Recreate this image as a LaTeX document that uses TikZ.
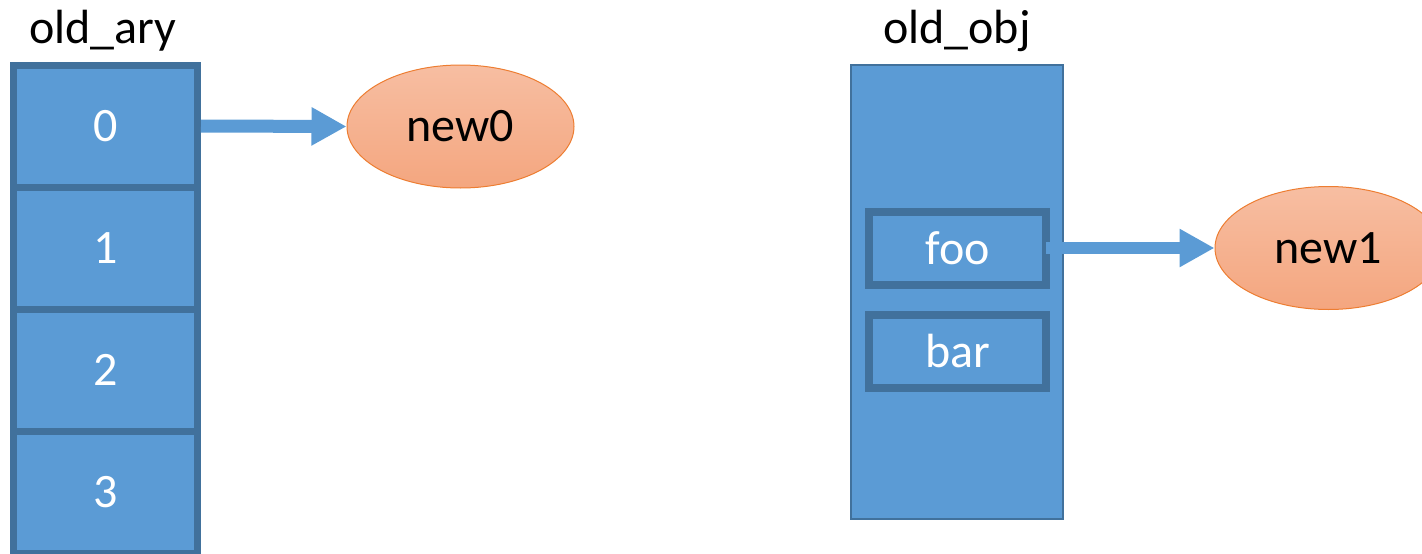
\documentclass[tikz,border=0pt]{standalone}
\usepackage{fontspec}
\setmainfont{Carlito}
\usetikzlibrary{arrows.meta,shapes.geometric}
\definecolor{cellfill}{HTML}{5B9BD5}
\definecolor{celldraw}{HTML}{41719C}
\definecolor{ovaltop}{HTML}{F7BEA2}
\definecolor{ovalbot}{HTML}{F4A67F}
\definecolor{ovaldraw}{HTML}{ED7D31}
\tikzset{
  txt/.style={font=\fontsize{48}{52}\selectfont},
  cell/.style={txt, draw=celldraw, fill=cellfill, line width=7pt, text=white,
    minimum width=184pt, minimum height=122pt, inner sep=0pt},
  field/.style={txt, draw=celldraw, fill=cellfill, line width=8pt, text=white,
    minimum width=177pt, minimum height=73pt, inner sep=0pt},
  objbox/.style={draw=celldraw, fill=cellfill, line width=2pt,
    minimum width=212pt, minimum height=454pt, inner sep=0pt},
  oval/.style={txt, ellipse, draw=ovaldraw, line width=1pt, top color=ovaltop,
    bottom color=ovalbot, minimum width=227pt, minimum height=123pt, inner sep=0pt},
  ptr/.style={draw=cellfill, line width=13pt, -{Triangle[length=35pt,width=36pt]}},
  lbl/.style={txt, anchor=base, inner sep=0pt}
}
\begin{document}
\begin{tikzpicture}[x=1pt,y=-1pt]
\useasboundingbox (0,0) rectangle (1422,554);
\node[lbl] (lary) at (103,43) {old\_ary};
\node[lbl] (lobj) at (957,43) {old\_obj};
\node[cell] (c0) at (105.5,126) {0};
\node[cell] (c1) at (105.5,248) {1};
\node[cell] (c2) at (105.5,370) {2};
\node[cell] (c3) at (105.5,492) {3};
\node[oval] (n0) at (460.5,126.5) {new0};
\node[objbox] (obj) at (957,292) {};
\node[field] (foo) at (957.5,248) {foo};
\node[field] (bar) at (957.5,351) {bar};
\node[oval] (n1) at (1328.5,248) {new1};
\draw[ptr] (c0.east) -- (n0.west);
\draw[ptr, line width=12pt, shorten <=-4pt] (foo.east) -- (n1.west);
\end{tikzpicture}
\end{document}
